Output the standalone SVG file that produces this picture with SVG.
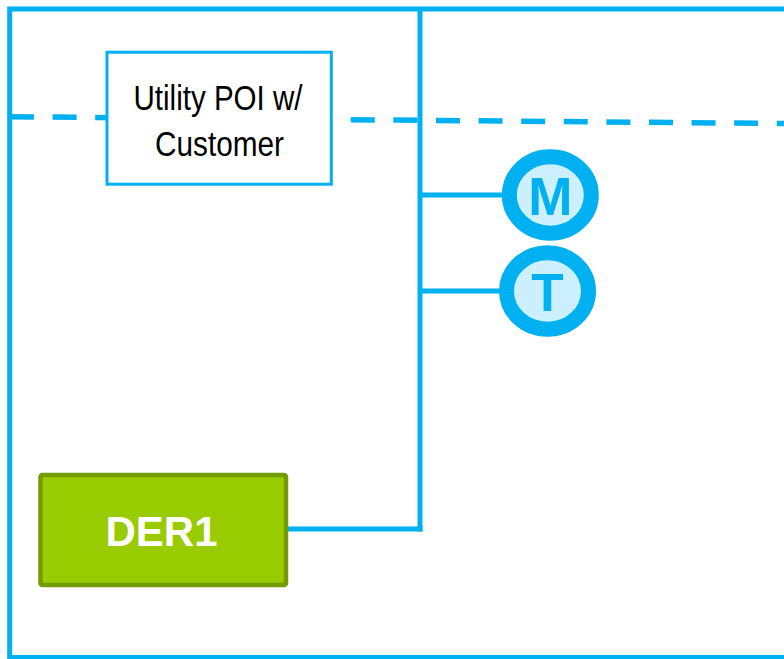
<svg xmlns="http://www.w3.org/2000/svg" width="784" height="659" viewBox="0 0 784 659">
  <style>
    .wire { stroke: #00B0F0; stroke-width: 5; fill: none; }
    .dash { stroke: #00B0F0; stroke-width: 5.5; fill: none; stroke-dasharray: 24 18.6; }
    .poi { fill: #FFFFFF; stroke: #00B0F0; stroke-width: 3; }
    .poitext { font-family: "Liberation Sans", Arial, sans-serif; font-size: 35.5px; fill: #000000; text-anchor: middle; }
    .der { fill: #99CC00; stroke: #739A00; stroke-width: 4.5; }
    .dertext { font-family: "Liberation Sans", Arial, sans-serif; font-size: 42px; font-weight: bold; fill: #FFFFFF; text-anchor: middle; }
    .meter { fill: #CCF0FF; stroke: #00B0F0; stroke-width: 15; }
    .metertext { font-family: "Liberation Sans", Arial, sans-serif; font-size: 53px; font-weight: bold; fill: #00B0F0; text-anchor: middle; }
  </style>
  <rect width="784" height="659" fill="#FFFFFF"/>
  <g id="frame">
    <rect class="wire" x="9.7" y="9" width="790" height="648.5"/>
  </g>
  <g id="connectors">
    <line class="dash" x1="10" y1="116.7" x2="784" y2="123.5"/>
    <line class="wire" x1="420" y1="9" x2="420" y2="531.5"/>
    <line class="wire" x1="286" y1="529" x2="422.5" y2="529"/>
    <line class="wire" x1="420" y1="195" x2="505" y2="195"/>
    <line class="wire" x1="420" y1="291" x2="502" y2="291"/>
  </g>
  <g id="poi">
    <rect class="poi" x="107" y="52.2" width="224.3" height="132"/>
    <text class="poitext" x="218" y="109.5" textLength="169" lengthAdjust="spacingAndGlyphs">Utility POI w/</text>
    <text class="poitext" x="219.5" y="156" textLength="129" lengthAdjust="spacingAndGlyphs">Customer</text>
  </g>
  <g id="meter-m">
    <ellipse class="meter" cx="550.3" cy="195" rx="41" ry="38.2"/>
    <text class="metertext" x="550.3" y="215">M</text>
  </g>
  <g id="meter-t">
    <ellipse class="meter" cx="547.5" cy="291" rx="41" ry="38.3"/>
    <text class="metertext" x="547.5" y="311">T</text>
  </g>
  <g id="der1">
    <rect class="der" x="40.5" y="475" width="245.5" height="110" rx="2"/>
    <text class="dertext" x="161.5" y="545.5">DER1</text>
  </g>
</svg>
